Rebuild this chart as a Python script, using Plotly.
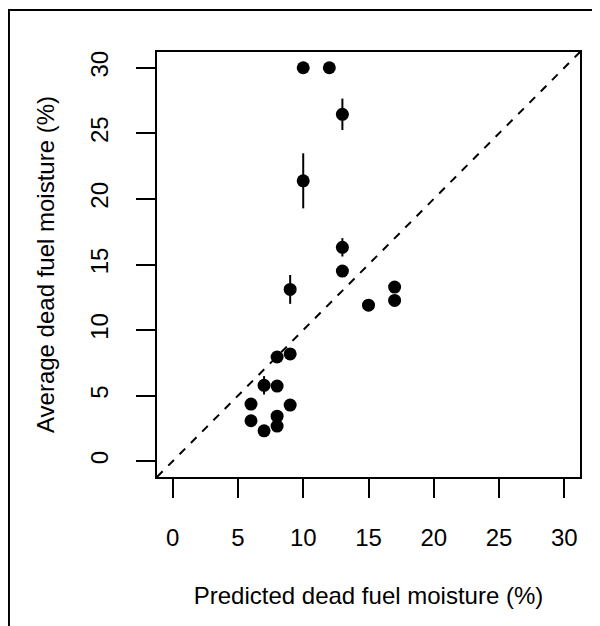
import plotly.graph_objects as go

# Data
predicted = [10, 12, 13, 10, 13, 13, 9, 15, 17, 17, 9, 8, 7, 8, 6, 9, 6, 8, 8, 7]
observed = [30, 30, 26.45, 21.38, 16.31, 14.5, 13.1, 11.9, 13.28, 12.26,
            8.18, 7.95, 5.79, 5.73, 4.36, 4.28, 3.09, 3.44, 2.68, 2.32]
obs_error = [0, 0, 1.2, 2.1, 0.7, 0, 1.1, 0, 0, 0,
             0, 0, 0.7, 0, 0, 0, 0, 0, 0, 0]
tick_vals = [0, 5, 10, 15, 20, 25, 30]
tick_text = ["0", "5", "10", "15", "20", "25", "30"]
axis_range = [-1.2, 31.2]

FONT = "Liberation Sans, Arial, sans-serif"
FS = 24

fig = go.Figure()

# 1:1 reference line
fig.add_trace(go.Scatter(
    x=axis_range, y=axis_range, mode="lines",
    line=dict(color="black", width=2, dash="8px,8px"),
    hoverinfo="skip", showlegend=False,
))

fig.add_trace(go.Scatter(
    x=predicted, y=observed, mode="markers",
    marker=dict(color="black", size=13, line=dict(width=0)),
    error_y=dict(type="data", array=obs_error, visible=True,
                 color="black", thickness=2, width=0),
    showlegend=False,
))

axis_common = dict(
    range=axis_range, tickvals=tick_vals, ticktext=tick_text,
    ticks="outside", ticklen=19, tickwidth=1.5, tickcolor="black",
    showline=True, linecolor="black", linewidth=1.5, mirror=True,
    showgrid=False, zeroline=False,
    tickfont=dict(family=FONT, size=FS, color="black"),
)

fig.update_xaxes(
    **axis_common,
    title=dict(text="Predicted dead fuel moisture (%)",
               font=dict(family=FONT, size=FS, color="black"), standoff=38),
    ticklabelstandoff=19,
)
fig.update_yaxes(
    **axis_common,
    tickangle=-90,
    title=dict(text="Average dead fuel moisture (%)",
               font=dict(family=FONT, size=FS, color="black"), standoff=24),
    ticklabelstandoff=19,
)

# outer figure frame (left and top edges visible)
fig.add_shape(type="rect", xref="paper", yref="paper",
              x0=-0.35, x1=1.3, y0=-0.6, y1=1.099,
              line=dict(color="black", width=2), fillcolor="rgba(0,0,0,0)",
              layer="below")

fig.update_layout(
    width=600, height=626,
    margin=dict(l=149, r=28, t=44, b=157, autoexpand=False),
    paper_bgcolor="white", plot_bgcolor="white",
    font=dict(family=FONT, size=FS, color="black"),
)

fig.write_html("out.html")
